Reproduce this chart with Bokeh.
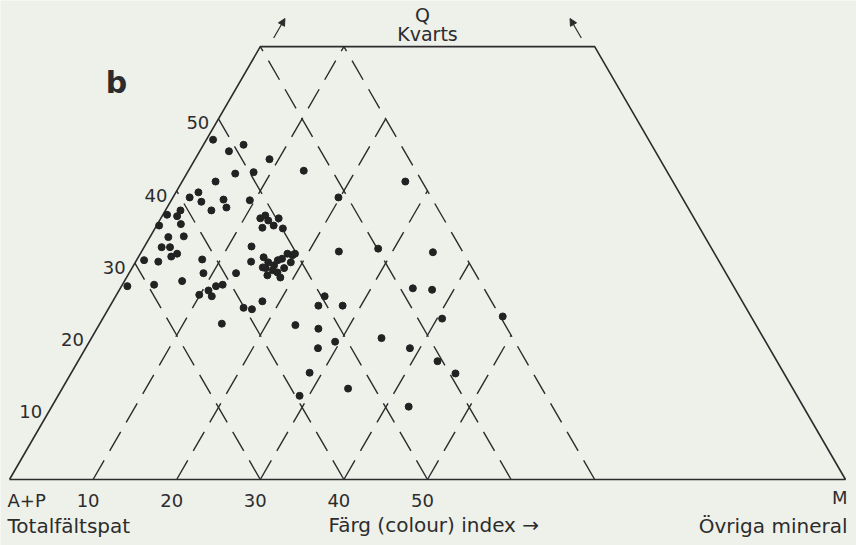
import math
from bokeh.plotting import figure
from bokeh.models import Range1d, Label, Arrow, NormalHead, ColumnDataSource
from bokeh.embed import file_html
from bokeh.resources import INLINE

# ---- data (ternary: M = colour index, Q = quartz, A+P = 100 - M - Q) ----
M_vals = [0.8, 3.5, 4.8, 8.9, 5.8, 7.9, 13.8, 4.0, 2.0, 2.7, 3.7, 5.5, 6.2, 7.1, 9.4,
          0.5, 1.8, 1.8, 0.3, 2.8, 2.2, 4.0, 2.1, 3.1, 4.4, 3.9, 0.9, 2.7, 0.7, 3.8, 6.9,
          11.9, 12.3, 13.0, 12.8, 14.1, 15.3, 14.0, 12.8, 13.8, 7.8, 8.9, 12.8,
          15.0, 15.9, 16.8, 16.9, 17.3, 17.6, 18.3, 18.5, 18.6, 17.0, 17.7, 18.2, 16.0,
          18.4, 16.7, 15.6, 9.9, 10.7, 11.3, 12.0, 11.5, 16.1, 17.2, 17.9, 14.6,
          19.8, 26.7, 23.6, 28.1, 34.9, 24.9, 25.0, 27.8, 23.5, 26.5, 27.8, 29.4, 34.7,
          28.5, 34.2, 28.9, 35.0, 37.4, 40.6, 47.7, 38.8, 43.0, 46.0, 42.7]
Q_vals = [47.1, 45.5, 46.4, 44.4, 42.4, 42.6, 42.8, 41.3, 39.1, 39.8, 38.5, 37.3, 38.8, 37.7, 38.7,
          36.7, 37.3, 36.5, 35.2, 35.4, 33.6, 33.7, 32.2, 32.2, 31.3, 30.9, 30.4, 30.2, 26.8, 27.0, 27.5,
          36.2, 36.6, 35.9, 34.9, 36.2, 34.8, 35.2, 32.3, 30.2, 30.5, 28.6, 28.6,
          30.8, 30.1, 29.7, 30.4, 30.6, 31.3, 31.1, 31.3, 30.1, 29.0, 28.7, 29.3, 29.3,
          28.0, 28.3, 29.4, 25.6, 26.2, 26.8, 27.0, 25.4, 23.8, 23.6, 24.7, 21.6,
          39.1, 41.3, 31.6, 32.0, 31.5, 24.1, 25.4, 24.1, 21.4, 20.9, 18.2, 19.1, 19.6,
          14.8, 12.6, 11.6, 26.5, 26.3, 22.3, 22.6, 18.2, 16.4, 14.7, 10.1]

q_top = 60                      # diagram truncated at Q = 60
m_lines = [10, 20, 30, 40, 50]  # constant colour index lines
ap_lines = [70, 60, 50, 40, 30] # constant A+P lines
ap_bound = 30                   # lattice bounded by A+P = 30
left_ticks = [10, 20, 30, 40, 50]
base_ticks = [10, 20, 30, 40, 50]

S3 = math.sqrt(3) / 2

def tx(m, q):
    return m + q / 2.0

def ty(q):
    return q * S3

BG = "#eef0ea"
INK = "#2c2c2c"
FONT = "DejaVu Sans"

p = figure(width=856, height=545, output_backend="svg", toolbar_location=None,
           x_range=Range1d(-1.077, 101.32), y_range=Range1d(-7.923, 57.50),
           min_border=0, background_fill_color=BG, border_fill_color=BG)
p.axis.visible = False
p.grid.visible = False
p.outline_line_color = None

# outline (truncated triangle)
om = [0, 100, 100 - q_top, 0, 0]
oq = [0, 0, q_top, q_top, 0]
p.line([tx(m, q) for m, q in zip(om, oq)], [ty(q) for q in oq],
       line_color=INK, line_width=1.6)

# dashed lattice
xs, ys = [], []
for m in m_lines:
    qend = min(q_top, 100 - ap_bound - m)
    xs.append([tx(m, 0), tx(m, qend)])
    ys.append([ty(0), ty(qend)])
for a in ap_lines:
    m0 = 100 - a
    qend = min(q_top, m0)
    m1 = m0 - qend
    xs.append([tx(m0, 0), tx(m1, qend)])
    ys.append([ty(0), ty(qend)])
p.multi_line(xs, ys, line_color=INK, line_width=1.4, line_dash="22 11")

# data points
src = ColumnDataSource(dict(x=[tx(m, q) for m, q in zip(M_vals, Q_vals)],
                            y=[ty(q) for q in Q_vals]))
p.scatter("x", "y", source=src, size=7, fill_color="#222222", line_color="#222222")

# arrows at top
for (m0, q0, m1, q1) in [(1.0, 61.2, 1.0, 63.9), (99 - 61.2, 61.2, 99 - 63.9, 63.9)]:
    p.add_layout(Arrow(end=NormalHead(size=7, fill_color=INK, line_color=INK),
                       x_start=tx(m0, q0), y_start=ty(q0), x_end=tx(m1, q1), y_end=ty(q1),
                       line_color=INK, line_width=1.2))

def lab(x, y, text, align="center", size="18px", font=FONT, style="normal", base="middle"):
    p.add_layout(Label(x=x, y=y, text=text, text_align=align, text_baseline=base,
                       text_font=font, text_font_size=size, text_color=INK,
                       text_font_style=style))

# left edge tick labels
for q in left_ticks:
    lab(q / 2.0 - 1.1, ty(q) - 0.5, str(q), align="right", size="18px")

# base labels
for m in base_ticks:
    lab(m - 0.6, -2.5, str(m), size="18px")
lab(-0.24, -2.5, "A+P", align="left", size="18px")
lab(100.24, -2.2, "M", align="right", size="18px")
lab(-0.24, -5.6, "Totalfältspat", align="left", size="20px")
lab(38.16, -5.5, "Färg (colour) index \u2192", align="left", size="20px")
lab(100.24, -5.6, "Övriga mineral", align="right", size="20px")

# top labels
lab(49.4, 55.7, "Q", size="19px")
lab(50.0, 53.5, "Kvarts", size="19px")

# panel letter
lab(11.5, 47.6, "b", align="left", size="30px", style="bold", base="middle")

open("out.html", "w").write(file_html(p, INLINE))
